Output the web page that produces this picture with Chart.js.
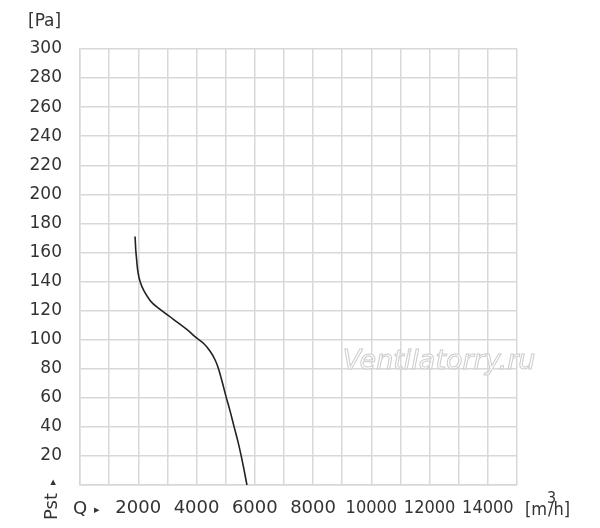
<!DOCTYPE html>
<html>
<head>
<meta charset="utf-8">
<script src="https://cdn.jsdelivr.net/npm/chart.js@4.4.0/dist/chart.umd.min.js"></script>
<style>
  html, body { margin: 0; padding: 0; background: #fff; }
  #wrap { width: 600px; height: 528px; }
</style>
</head>
<body>
<div id="wrap"><canvas id="fanChart" width="600" height="528"></canvas></div>
<script>
// air flow Q [m3/h] and static pressure Pst [Pa]
var flowQ = [1890, 1930, 2062, 2405, 2807, 3207, 3666, 4010, 4238, 4467, 4639, 4753, 4880, 5010, 5150, 5290, 5420, 5533, 5635, 5730];
var pressurePst = [171, 158, 140, 127, 120, 114, 107, 101, 97.5, 92, 86, 80, 71, 61, 51, 40, 30, 20, 10, 0];

var xLabels = [2000, 4000, 6000, 8000, 10000, 12000, 14000];
var yLabels = [20, 40, 60, 80, 100, 120, 140, 160, 180, 200, 220, 240, 260, 280, 300];

var gridColor = "#d8d8d8";
var textColor = "#333";

var points = [];
for (var i = 0; i < flowQ.length; i++) {
	points.push({ x: flowQ[i], y: pressurePst[i] });
}

// axis captions and the watermark
var extraText = {
	id: "extraText",
	beforeDatasetsDraw: function (chart) {
		var c = chart.ctx;
		c.save();
		c.font = "italic 27px 'DejaVu Sans'";
		c.textAlign = "center";
		c.textBaseline = "middle";
		c.fillStyle = "#fff";
		c.strokeStyle = "#cccccc";
		c.lineWidth = 1;
		c.fillText("Ventilatorry.ru", 439, 362);
		c.strokeText("Ventilatorry.ru", 439, 362);
		c.restore();
	},
	afterDraw: function (chart) {
		var c = chart.ctx;
		c.save();
		c.fillStyle = textColor;
		c.textBaseline = "middle";
		c.textAlign = "left";
		c.font = "17px 'DejaVu Sans'";
		c.fillText("[Pa]", 28, 22);

		c.font = "18px 'DejaVu Sans'";
		c.fillText("Q", 73, 509);
		c.font = "11px 'DejaVu Sans'";
		c.fillText("\u25B8", 94, 510);

		// unit of flow
		c.font = "18px 'DejaVu Sans Condensed', 'DejaVu Sans'";
		c.fillText("[m", 525, 510);
		var w = c.measureText("[m").width;
		c.fillText("/h]", 525 + w + 1, 510);
		c.font = "16px 'DejaVu Sans Condensed', 'DejaVu Sans'";
		c.fillText("3", 525 + w, 499);

		// rotated pressure caption
		c.translate(52, 520);
		c.rotate(-Math.PI / 2);
		c.font = "18px 'DejaVu Sans'";
		c.fillText("Pst", 0, 0);
		c.font = "11px 'DejaVu Sans'";
		c.fillText("\u25B8", 35, 1);
		c.restore();
	}
};

var ctx = document.getElementById("fanChart");

var chart = new Chart(ctx, {
	type: "line",
	data: {
		datasets: [{
			label: "Pst",
			data: points,
			borderColor: "#222",
			borderWidth: 1.6,
			fill: false,
			pointRadius: 0,
			tension: 0.4
		}]
	},
	options: {
		responsive: false,
		animation: false,
		layout: {
			padding: { top: 49, right: 83, left: 0, bottom: 0 }
		},
		plugins: {
			legend: { display: false },
			tooltip: { enabled: false }
		},
		scales: {
			x: {
				type: "linear",
				min: 0,
				max: 15000,
				afterFit: function (scale) { scale.height = 43; },
				grid: { color: gridColor, lineWidth: 1.5, drawTicks: false },
				border: { color: gridColor, width: 1.5 },
				ticks: {
					stepSize: 1000,
					autoSkip: false,
					maxRotation: 0,
					padding: 13,
					color: textColor,
					font: function (c) {
						var v = c.tick ? c.tick.value : 0;
						if (v >= 10000) {
							return { family: "'DejaVu Sans Condensed', 'Liberation Sans Narrow', 'DejaVu Sans'", size: 18 };
						}
						return { family: "'DejaVu Sans'", size: 18 };
					},
					callback: function (v) {
						return xLabels.indexOf(v) >= 0 ? String(v) : "";
					}
				}
			},
			y: {
				min: 0,
				max: 300,
				afterFit: function (scale) { scale.width = 80; },
				grid: { color: gridColor, lineWidth: 1.5, drawTicks: false },
				border: { color: gridColor, width: 1.5 },
				ticks: {
					stepSize: 20,
					autoSkip: false,
					padding: 18,
					color: textColor,
					font: { family: "'DejaVu Sans'", size: 17 },
					callback: function (v) {
						return yLabels.indexOf(v) >= 0 ? String(v) : "";
					}
				}
			}
		}
	},
	plugins: [extraText]
});
</script>
</body>
</html>
